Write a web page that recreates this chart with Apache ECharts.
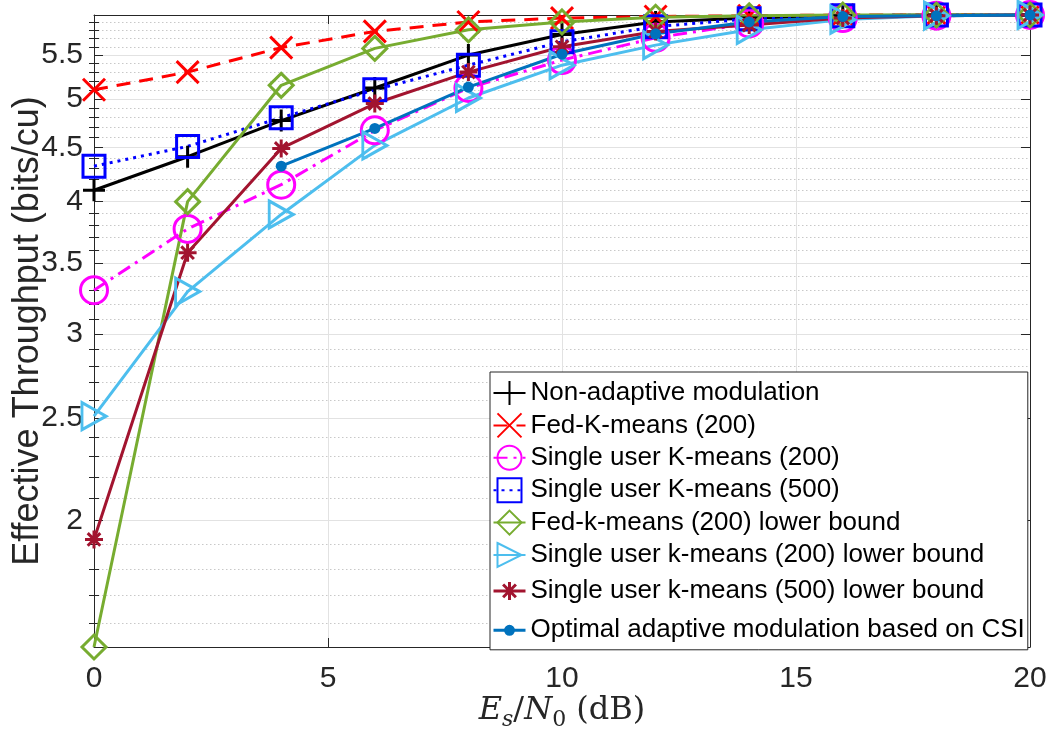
<!DOCTYPE html>
<html><head><meta charset="utf-8">
<script src="https://cdn.jsdelivr.net/npm/echarts@6/dist/echarts.min.js"></script>
<style>html,body{margin:0;padding:0;background:#fff}#c{width:1053px;height:739px}</style>
</head><body><div id="c"></div>
<script>
// ---- data ----
const snr = [0, 2, 4, 6, 8, 10, 12, 14, 16, 18, 20];
const nonAdaptive = [4.10, 4.41, 4.77, 5.12, 5.50, 5.75, 5.91, 5.96, 5.99, 6.00, 6.00];
const fedKmeans200 = [5.10, 5.30, 5.59, 5.79, 5.91, 5.96, 5.98, 5.99, 6.00, 6.00, 6.00];
const suKmeans200 = [3.30, 3.77, 4.15, 4.67, 5.12, 5.44, 5.71, 5.89, 5.96, 5.99, 6.00];
const suKmeans500 = [4.32, 4.51, 4.80, 5.10, 5.38, 5.66, 5.85, 5.95, 5.99, 6.00, 6.00];
const fedKmeans200LB = [1.52, 4.00, 5.15, 5.58, 5.81, 5.91, 5.97, 5.99, 6.00, 6.00, 6.00];
const suKmeans200LB = [2.51, 3.29, 3.89, 4.52, 5.01, 5.38, 5.62, 5.81, 5.94, 5.99, 6.00];
const suKmeans500LB = [1.92, 3.58, 4.49, 4.95, 5.30, 5.60, 5.79, 5.87, 5.96, 5.99, 6.00];
const optimalCSI = [null, null, 4.32, 4.69, 5.13, 5.51, 5.76, 5.91, 5.98, 5.99, 6.00];

const seriesNames = [
  'Non-adaptive modulation',
  'Fed-K-means (200)',
  'Single user K-means (200)',
  'Single user K-means (500)',
  'Fed-k-means (200) lower bound',
  'Single user k-means (200) lower bound',
  'Single user k-means (500) lower bound',
  'Optimal adaptive modulation based on CSI'
];
const yMajorTicks = [2, 2.5, 3, 3.5, 4, 4.5, 5, 5.5];
const yMinorTicks = [1.6, 1.7, 1.8, 1.9, 2.1, 2.2, 2.3, 2.4, 2.6, 2.7, 2.8, 2.9, 3.1, 3.2, 3.3, 3.4,
  3.6, 3.7, 3.8, 3.9, 4.1, 4.2, 4.3, 4.4, 4.6, 4.7, 4.8, 4.9, 5.1, 5.2, 5.3, 5.4, 5.6, 5.7, 5.8, 5.9];
const yMin = 1.52, yMax = 6.0;

// ---- style ----
const FONT = "'Liberation Sans', Arial, Helvetica, sans-serif";
const SERIF = "'DejaVu Serif', 'Liberation Serif', serif";
const AX = '#262626';
const NOFILL = 'rgba(0,0,0,0)';
const SYM = {
  plus: 'path://M0,10L20,10M10,0L10,20',
  cross: 'path://M0,0L20,20M20,0L0,20',
  star: 'path://M0,10L20,10M10,0L10,20M3,3L17,17M17,3L3,17',
  tri: 'path://M0,0L20,10L0,20Z',
  // legend icons (box 32 x 30): line + marker
  starLeg: 'path://M0,0M32,30M0,15L32,15M7,15L25,15M16,6L16,24M9.6,8.6L22.4,21.4M22.4,8.6L9.6,21.4',
  dotLeg: 'path://M0,0M32,30M0,15L32,15M12,15A4,4,0,1,1,20,15A4,4,0,1,1,12,15Z'
};

function pairs(vals) {
  const out = [];
  vals.forEach((v, i) => { if (v !== null) out.push([snr[i], v]); });
  return out;
}
function mk(name, vals, color, lineType, symbol, size, filled) {
  return {
    name, type: 'line', data: pairs(vals), clip: false,
    symbol, symbolSize: size, showAllSymbol: true,
    lineStyle: { color, width: 3, type: lineType },
    itemStyle: filled ? { color, borderWidth: 0 } : { color: NOFILL, borderColor: color, borderWidth: 3 },
    emphasis: { disabled: true }, animation: false
  };
}

const series = [
  mk(seriesNames[0], nonAdaptive, '#000000', 'solid', SYM.plus, 22, false),
  mk(seriesNames[1], fedKmeans200, '#FF0000', [14, 9], SYM.cross, 22, false),
  mk(seriesNames[2], suKmeans200, '#FF00FF', [14, 6, 3, 6], 'circle', 27, false),
  mk(seriesNames[3], suKmeans500, '#0000FF', [3, 5], 'rect', 22, false),
  mk(seriesNames[4], fedKmeans200LB, '#77AC30', 'solid', 'diamond', 24, false),
  mk(seriesNames[5], suKmeans200LB, '#4DBEEE', 'solid', SYM.tri, [24, 27], false),
  mk(seriesNames[6], suKmeans500LB, '#A2142F', 'solid', SYM.star, 18, false),
  mk(seriesNames[7], optimalCSI, '#0072BD', 'solid', 'circle', 11, true)
];

const legendData = seriesNames.map((n, i) => {
  if (i === 6) return { name: n, icon: SYM.starLeg, itemStyle: { color: NOFILL, borderColor: '#A2142F', borderWidth: 3 } };
  if (i === 7) return { name: n, icon: SYM.dotLeg, itemStyle: { color: '#0072BD', borderColor: '#0072BD', borderWidth: 3 } };
  return { name: n };
});

const logAxisBase = { type: 'log', logBase: 10, min: yMin, max: yMax, gridIndex: 0 };

const option = {
  animation: false,
  backgroundColor: '#fff',
  grid: { left: 94, top: 15, right: 23, bottom: 92, outerBoundsMode: 'none', containLabel: false },
  legend: {
    data: legendData, orient: 'vertical', left: 490, top: 372,
    itemWidth: 32, itemHeight: 30, itemGap: 6.4,
    padding: [8, 3, 3, 2],
    backgroundColor: '#fff', borderColor: AX, borderWidth: 1, borderRadius: 0,
    textStyle: { fontFamily: FONT, fontSize: 26, color: '#000' },
    selectedMode: false
  },
  xAxis: [
    {
      type: 'value', min: 0, max: 20, interval: 5, position: 'bottom',
      axisLine: { show: true, onZero: false, lineStyle: { color: AX, width: 1 } },
      axisTick: { show: true, inside: true, length: 9, lineStyle: { color: AX } },
      axisLabel: { fontFamily: FONT, fontSize: 30, color: AX, margin: 17 },
      splitLine: { show: true, lineStyle: { color: '#e2e2e2', width: 1 } },
      name: '{e|E}{si|s}{u|/}{e|N}{su|0}{u| (dB)}',
      nameLocation: 'middle', nameGap: 44, nameMoveOverlap: false,
      nameTextStyle: {
        rich: {
          e: { fontFamily: SERIF, fontStyle: 'italic', fontSize: 32, color: AX, lineHeight: 40 },
          u: { fontFamily: SERIF, fontSize: 32, color: AX, lineHeight: 40 },
          si: { fontFamily: SERIF, fontStyle: 'italic', fontSize: 22, color: AX, lineHeight: 22, verticalAlign: 'bottom' },
          su: { fontFamily: SERIF, fontSize: 22, color: AX, lineHeight: 22, verticalAlign: 'bottom' }
        }
      }
    },
    {
      type: 'value', min: 0, max: 20, interval: 5, position: 'top',
      axisLine: { show: true, onZero: false, lineStyle: { color: AX, width: 1 } },
      axisTick: { show: true, inside: true, length: 9, lineStyle: { color: AX } },
      axisLabel: { show: false }, splitLine: { show: false }
    }
  ],
  yAxis: [
    Object.assign({}, logAxisBase, {
      position: 'left',
      axisLine: { show: true, onZero: false, lineStyle: { color: AX, width: 1 } },
      axisTick: { show: true, inside: true, length: 9, customValues: yMajorTicks, lineStyle: { color: AX } },
      axisLabel: { show: true, customValues: yMajorTicks, fontFamily: FONT, fontSize: 30, color: AX, margin: 11,
        formatter: v => String(Math.round(v * 10) / 10) },
      splitLine: { show: true, lineStyle: { color: '#e2e2e2', width: 1 } },
      name: 'Effective Throughput (bits/cu)', nameLocation: 'middle', nameGap: 48, nameMoveOverlap: false,
      nameTextStyle: { fontFamily: FONT, fontSize: 36, color: AX }
    }),
    Object.assign({}, logAxisBase, {
      position: 'right',
      axisLine: { show: true, onZero: false, lineStyle: { color: AX, width: 1 } },
      axisTick: { show: true, inside: true, length: 9, customValues: yMajorTicks, lineStyle: { color: AX } },
      axisLabel: { show: false }, splitLine: { show: false }
    }),
    Object.assign({}, logAxisBase, {
      position: 'left',
      axisLine: { show: false },
      axisTick: { show: true, inside: true, length: 5, customValues: yMinorTicks, lineStyle: { color: AX } },
      axisLabel: { show: false },
      splitLine: { show: true, lineStyle: { color: '#c8c8c8', width: 1, type: [1.5, 2.5] } }
    }),
    Object.assign({}, logAxisBase, {
      position: 'right',
      axisLine: { show: false },
      axisTick: { show: true, inside: true, length: 5, customValues: yMinorTicks, lineStyle: { color: AX } },
      axisLabel: { show: false }, splitLine: { show: false }
    })
  ],
  series
};

const chart = echarts.init(document.getElementById('c'), null, { renderer: 'canvas' });
chart.setOption(option);
</script>
</body></html>
